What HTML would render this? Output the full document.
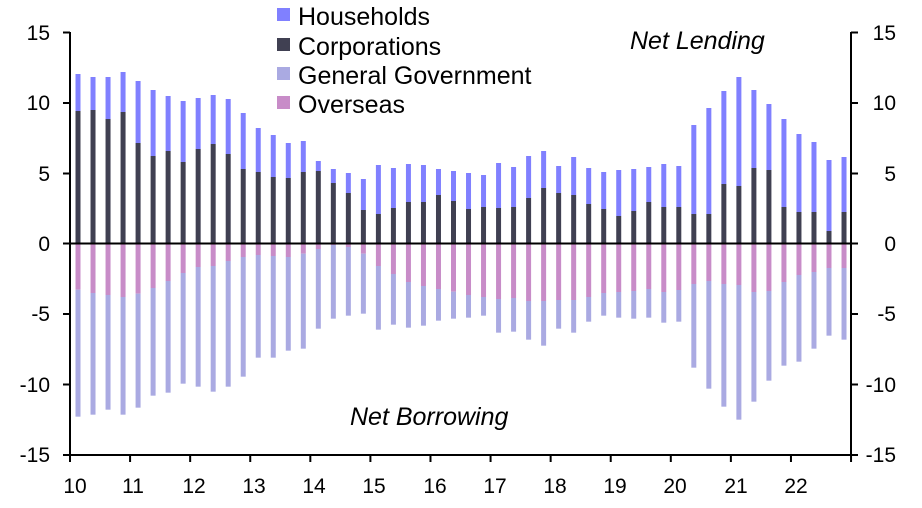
<!DOCTYPE html>
<html><head><meta charset="utf-8"><style>
html,body{margin:0;padding:0;background:#fff;}
svg{display:block;font-family:"Liberation Sans",Arial,sans-serif;}
</style></head><body>
<svg id="s" width="922" height="508" viewBox="0 0 922 508" xmlns="http://www.w3.org/2000/svg">
<g id="bars"></g>
<line x1="70" y1="243.5" x2="851" y2="243.5" stroke="#000" stroke-width="2"/>
<line x1="70" y1="32" x2="70" y2="462" stroke="#000" stroke-width="2"/>
<line x1="851" y1="32" x2="851" y2="456" stroke="#000" stroke-width="2"/>
<line x1="64" y1="455" x2="858" y2="455" stroke="#000" stroke-width="2"/>
<g stroke="#000" stroke-width="2" id="ticks"></g>
<g font-size="21" fill="#000" text-anchor="end">
<text x="50" y="40">15</text><text x="50" y="110">10</text><text x="50" y="181">5</text><text x="50" y="251">0</text>
<text x="50" y="321">-5</text><text x="50" y="392">-10</text><text x="50" y="462">-15</text>
</g>
<g font-size="21" fill="#000" text-anchor="end">
<text x="896" y="40">15</text><text x="896" y="110">10</text><text x="896" y="181">5</text><text x="896" y="251">0</text>
<text x="896" y="321">-5</text><text x="896" y="392">-10</text><text x="896" y="462">-15</text>
</g>
<g font-size="21" fill="#000" text-anchor="middle">
<text x="75" y="493">10</text><text x="133" y="493">11</text><text x="194" y="493">12</text><text x="254" y="493">13</text>
<text x="314" y="493">14</text><text x="374" y="493">15</text><text x="435" y="493">16</text><text x="495" y="493">17</text>
<text x="555" y="493">18</text><text x="615" y="493">19</text><text x="675" y="493">20</text><text x="736" y="493">21</text>
<text x="796" y="493">22</text>
</g>
<g font-size="25" fill="#000">
<rect x="277" y="8" width="13" height="13" fill="#8080ff"/><text x="298" y="25">Households</text>
<rect x="277" y="38" width="13" height="13" fill="#404052"/><text x="298" y="55">Corporations</text>
<rect x="277" y="67" width="13" height="13" fill="#aaaae2"/><text x="298" y="84">General Government</text>
<rect x="277" y="96" width="13" height="13" fill="#c88cc8"/><text x="298" y="113">Overseas</text>
<text x="630" y="49" font-style="italic" font-size="25">Net Lending</text>
<text x="350" y="425" font-style="italic" font-size="25">Net Borrowing</text>
</g>
</svg>
<script>
var ht=[42,51,51,36,63,90,108,123,114,105,117,159,204,225,249,243,303,327,339,357,315,324,312,315,327,333,
339,345,309,321,288,273,318,291,324,336,330,327,321,312,318,195,144,93,51,90,132,177,222,246,300,291];
var ct=[153,150,177,156,249,288,273,306,267,252,282,327,336,351,354,336,333,369,399,450,462,444,426,426,405,423,
447,441,444,441,414,384,399,405,432,447,468,453,426,441,441,462,462,372,378,324,330,441,456,456,513,456];
var ob=[689,699,705,711,701,684,663,639,621,618,603,591,585,588,591,581,567,555,561,581,618,642,666,678,687,695,
705,711,717,714,723,723,720,720,711,699,696,693,687,696,690,672,663,672,675,696,693,666,645,636,624,624];
var gb=[1070,1064,1049,1064,1043,1007,998,971,980,995,980,950,893,893,872,866,806,776,767,761,809,794,803,797,782,776,
773,767,818,815,839,857,806,818,785,767,773,776,773,788,785,923,986,1040,1079,1025,962,917,905,866,827,839];
var NS="http://www.w3.org/2000/svg",g=document.getElementById('bars');
function r(x,y1,y2,c){if(y2<=y1)return;var e=document.createElementNS(NS,'rect');e.setAttribute('x',x);e.setAttribute('y',y1);e.setAttribute('width',5);e.setAttribute('height',y2-y1);e.setAttribute('fill',c);g.appendChild(e);}
var Z=243.5;
for(var i=0;i<52;i++){
 var x=75.5+i*15.02;
 var h=60+ht[i]/3,c=60+ct[i]/3,o=60+ob[i]/3,gv=60+gb[i]/3;
 r(x,h,c,'#8080ff');r(x,c,Z,'#404052');r(x,Z,o,'#c88cc8');r(x,o,gv,'#aaaae2');
}
var t=document.getElementById('ticks'),ys=[32.5,103,173.5,243.5,314,384.5,455];
function l(a,b,c,d){var e=document.createElementNS(NS,'line');e.setAttribute('x1',a);e.setAttribute('y1',b);e.setAttribute('x2',c);e.setAttribute('y2',d);t.appendChild(e);}
ys.forEach(function(y){l(63,y,70,y);l(851,y,858,y);});
for(var k=0;k<=13;k++){var x=70+k*60.08;l(x,455,x,462);}
</script>
</body></html>
